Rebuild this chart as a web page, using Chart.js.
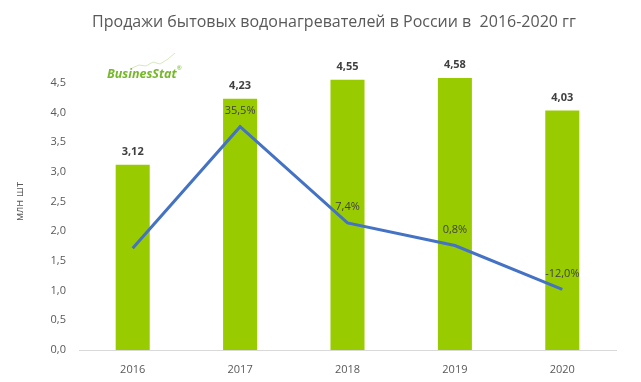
<!DOCTYPE html>
<html>
<head>
<meta charset="utf-8">
<script src="https://cdn.jsdelivr.net/npm/chart.js@4/dist/chart.umd.min.js"></script>
<style>
html,body{margin:0;padding:0;background:#fff;}
#wrap{width:641px;height:382px;position:relative;}
</style>
</head>
<body>
<div id="wrap"><canvas id="c" width="641" height="382"></canvas></div>
<script>
const categories = ["2016", "2017", "2018", "2019", "2020"];
const salesValues = [3.12, 4.23, 4.55, 4.58, 4.03];
const growthValues = [0.0, 35.5, 7.4, 0.8, -12.0];
const growthLabels = [null, "35,5%", "7,4%", "0,8%", "-12,0%"];
const yTicks = [0, 0.5, 1, 1.5, 2, 2.5, 3, 3.5, 4, 4.5];
const titleText = "Продажи бытовых водонагревателей в России в  2016-2020 гг";
const yTitle = "млн шт";

const FONT = "'Open Sans', 'Noto Sans', sans-serif";
const fmt = v => v.toFixed(2).replace('.', ',');

const decor = {
  id: 'decor',
  afterDraw(chart) {
    const ctx = chart.ctx;
    ctx.save();
    ctx.fillStyle = '#595959';
    ctx.font = "16px " + FONT;
    ctx.textAlign = 'center';
    ctx.textBaseline = 'middle';
    ctx.fillText(titleText, 334, 22);
    // logo
    ctx.textAlign = 'left';
    ctx.textBaseline = 'alphabetic';
    ctx.fillStyle = '#76b82a';
    ctx.font = "italic bold 12.5px " + FONT;
    ctx.fillText("BusinesStat", 107, 78);
    const w = ctx.measureText("BusinesStat").width;
    ctx.font = "6px " + FONT;
    ctx.fillText("®", 107 + w, 70);
    ctx.strokeStyle = '#c3e09f';
    ctx.lineWidth = 0.7;
    ctx.beginPath();
    ctx.moveTo(132, 68); ctx.lineTo(139, 65); ctx.lineTo(146, 66); ctx.lineTo(153, 62);
    ctx.lineTo(160, 64); ctx.lineTo(168, 59); ctx.lineTo(175, 53);
    ctx.stroke();
    ctx.restore();
  },
  afterDatasetsDraw(chart) {
    const ctx = chart.ctx;
    ctx.save();
    ctx.textAlign = 'center';
    ctx.textBaseline = 'middle';
    ctx.fillStyle = '#404040';
    const barMeta = chart.getDatasetMeta(1);
    ctx.font = "bold 11px " + FONT;
    barMeta.data.forEach((el, i) => {
      ctx.fillText(fmt(salesValues[i]), el.x, el.y - 13);
    });
    const lineMeta = chart.getDatasetMeta(0);
    ctx.font = "11px " + FONT;
    lineMeta.data.forEach((el, i) => {
      if (growthLabels[i]) ctx.fillText(growthLabels[i], el.x, el.y - 16);
    });
    ctx.restore();
  }
};

new Chart(document.getElementById('c'), {
  data: {
    labels: categories,
    datasets: [
      {
        type: 'line',
        data: growthValues,
        yAxisID: 'y2',
        borderColor: '#4472c4',
        borderWidth: 3,
        pointRadius: 0,
        tension: 0,
        order: 0
      },
      {
        type: 'bar',
        data: salesValues,
        yAxisID: 'y',
        backgroundColor: '#99cc00',
        categoryPercentage: 1,
        barPercentage: 0.317,
        order: 1
      }
    ]
  },
  options: {
    responsive: false,
    animation: false,
    layout: { padding: { left: 0, right: 25, top: 53, bottom: 0 } },
    plugins: { legend: { display: false }, tooltip: { enabled: false } },
    scales: {
      x: {
        grid: { display: false, drawTicks: false },
        border: { color: '#d9d9d9', width: 1 },
        ticks: { color: '#595959', font: { size: 11, family: FONT }, padding: 13 },
        afterFit(s) { s.height = 32; }
      },
      y: {
        min: 0, max: 5,
        grid: { display: false, drawTicks: false },
        border: { display: false },
        afterBuildTicks(s) { s.ticks = yTicks.map(v => ({ value: v })); },
        ticks: {
          color: '#595959', font: { size: 11, family: FONT }, padding: 13,
          callback: v => v.toFixed(1).replace('.', ',')
        },
        title: { display: true, text: yTitle, color: '#595959', font: { size: 11, family: FONT }, padding: { top: 13, bottom: 0 } },
        afterFit(s) { s.width = 79; }
      },
      y2: {
        display: false,
        min: -29.7, max: 57.0
      }
    }
  },
  plugins: [decor]
});
</script>
</body>
</html>
